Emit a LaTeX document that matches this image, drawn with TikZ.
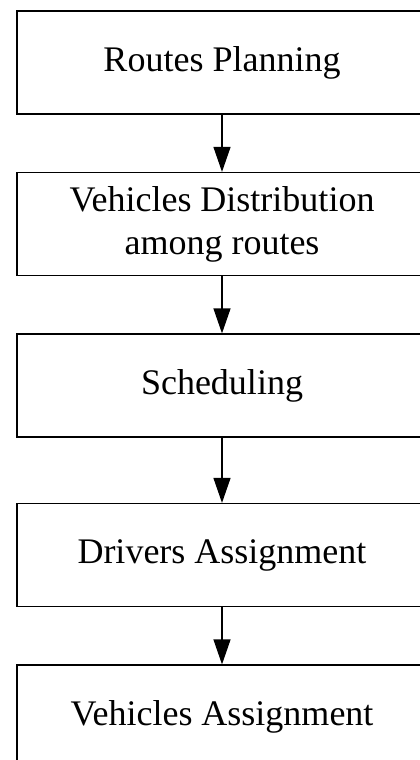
\documentclass[tikz,border=0pt]{standalone}
\usepackage{fontspec}
\setmainfont{Liberation Serif}
\usetikzlibrary{arrows.meta}
\begin{document}
\begin{tikzpicture}[x=1pt,y=-1pt,
  stepbox/.style={draw=black, line width=1.2pt, rectangle, minimum width=410pt, minimum height=103pt, align=center, inner sep=0pt, font=\fontsize{36}{43}\selectfont},
  flow/.style={draw=black, line width=1.2pt, -{Triangle[length=25pt,width=17pt]}}]
\useasboundingbox (0,0) rectangle (420,760);
\clip (0,0) rectangle (420,760);
\fill[white] (0,0) rectangle (420,760);
\node[stepbox] (b1) at (222,62.5) {Routes Planning};
\node[stepbox] (b2) at (222,224) {Vehicles Distribution\\among routes};
\node[stepbox] (b3) at (222,385.5) {Scheduling};
\node[stepbox] (b4) at (222,555) {Drivers Assignment};
\node[stepbox] (b5) at (222,716.5) {Vehicles Assignment};
\draw[flow] (b1.south) -- (b2.north);
\draw[flow] (b2.south) -- (b3.north);
\draw[flow] (b3.south) -- (b4.north);
\draw[flow] (b4.south) -- (b5.north);
\end{tikzpicture}
\end{document}
